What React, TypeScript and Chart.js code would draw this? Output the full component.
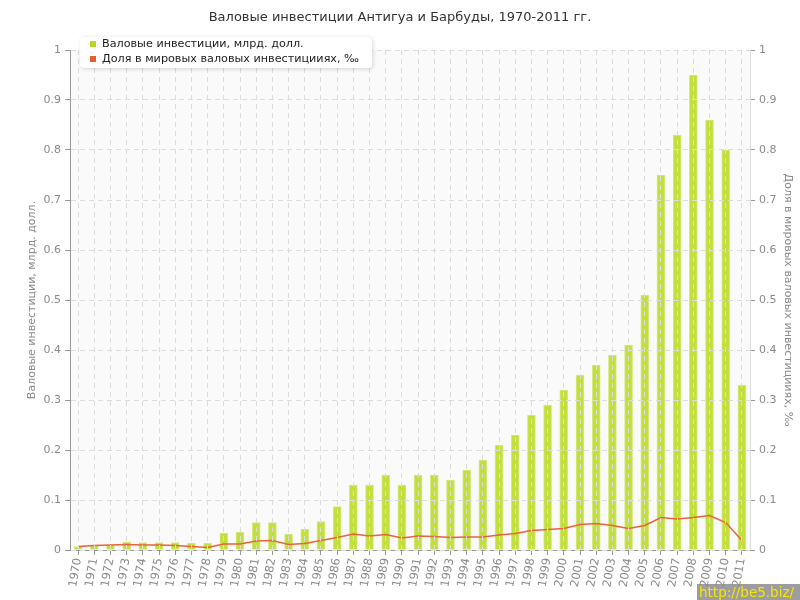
import React, { useEffect, useRef } from "react";
import { Chart, registerables } from "chart.js";

Chart.register(...registerables);

const years: string[] = [
  "1970","1971","1972","1973","1974","1975","1976","1977","1978","1979",
  "1980","1981","1982","1983","1984","1985","1986","1987","1988","1989",
  "1990","1991","1992","1993","1994","1995","1996","1997","1998","1999",
  "2000","2001","2002","2003","2004","2005","2006","2007","2008","2009",
  "2010","2011",
];

const investments: number[] = [
  0.007, 0.009, 0.01, 0.016, 0.015, 0.015, 0.015, 0.014, 0.014, 0.034,
  0.036, 0.055, 0.055, 0.032, 0.042, 0.057, 0.087, 0.13, 0.13, 0.15,
  0.13, 0.15, 0.15, 0.14, 0.16, 0.18, 0.21, 0.23, 0.27, 0.29,
  0.32, 0.35, 0.37, 0.39, 0.41, 0.51, 0.75, 0.83, 0.95, 0.86,
  0.8, 0.33,
];

const worldShare: number[] = [
  0.007, 0.009, 0.01, 0.011, 0.01, 0.01, 0.009, 0.007, 0.005, 0.012,
  0.012, 0.018, 0.019, 0.011, 0.013, 0.019, 0.025, 0.032, 0.028, 0.031,
  0.024, 0.028, 0.027, 0.025, 0.026, 0.026, 0.03, 0.033, 0.039, 0.041,
  0.043, 0.051, 0.053, 0.049, 0.043, 0.049, 0.065, 0.062, 0.065, 0.069,
  0.055, 0.019,
];

const titleText = "Валовые инвестиции Антигуа и Барбуды, 1970-2011 гг.";
const seriesNames: string[] = [
  "Валовые инвестиции, млрд. долл.",
  "Доля в мировых валовых инвестицииях, ‰",
];
const leftAxisTitle = "Валовые инвестиции, млрд. долл.";
const rightAxisTitle = "Доля в мировых валовых инвестицииях, ‰";
const watermark = "http://be5.biz/";

const FONT = "'DejaVu Sans', Verdana, sans-serif";

const decorPlugin = {
  id: "decor",
  beforeDraw(chart: any) {
    const { ctx, chartArea } = chart;
    ctx.save();
    ctx.fillStyle = "#ffffff";
    ctx.fillRect(0, 0, chart.width, chart.height);
    ctx.fillStyle = "#fafafa";
    ctx.fillRect(chartArea.left, chartArea.top, chartArea.right - chartArea.left, chartArea.bottom - chartArea.top);
    ctx.restore();
  },
  afterDraw(chart: any) {
    const { ctx } = chart;
    ctx.save();
    // title
    ctx.font = `13px ${FONT}`;
    ctx.fillStyle = "#333333";
    ctx.textAlign = "center";
    ctx.textBaseline = "middle";
    ctx.fillText(titleText, 400, 18);

    // legend box
    const bx = 80, by = 37, bw = 292, bh = 31, r = 4;
    ctx.shadowColor = "rgba(0,0,0,0.15)";
    ctx.shadowBlur = 4;
    ctx.shadowOffsetX = 1;
    ctx.shadowOffsetY = 1;
    ctx.fillStyle = "#ffffff";
    ctx.beginPath();
    ctx.moveTo(bx + r, by);
    ctx.lineTo(bx + bw - r, by);
    ctx.quadraticCurveTo(bx + bw, by, bx + bw, by + r);
    ctx.lineTo(bx + bw, by + bh - r);
    ctx.quadraticCurveTo(bx + bw, by + bh, bx + bw - r, by + bh);
    ctx.lineTo(bx + r, by + bh);
    ctx.quadraticCurveTo(bx, by + bh, bx, by + bh - r);
    ctx.lineTo(bx, by + r);
    ctx.quadraticCurveTo(bx, by, bx + r, by);
    ctx.closePath();
    ctx.fill();
    ctx.shadowColor = "transparent";
    ctx.shadowBlur = 0;
    ctx.shadowOffsetX = 0;
    ctx.shadowOffsetY = 0;

    const colors = ["#b5d62a", "#e8602c"];
    ctx.font = `11.2px ${FONT}`;
    ctx.textAlign = "left";
    ctx.textBaseline = "middle";
    seriesNames.forEach((name, i) => {
      const y = 44 + i * 15;
      ctx.fillStyle = colors[i];
      ctx.fillRect(90, y - 3, 6, 6);
      ctx.fillStyle = "#222222";
      ctx.fillText(name, 102, y);
    });

    // watermark
    ctx.fillStyle = "rgba(140,140,140,0.85)";
    ctx.fillRect(697, 584, 103, 16);
    ctx.font = `13.5px ${FONT}`;
    ctx.fillStyle = "#f5e600";
    ctx.textAlign = "left";
    ctx.textBaseline = "middle";
    ctx.fillText(watermark, 699, 593);
    ctx.restore();
  },
};

export default function App() {
  const ref = useRef<HTMLCanvasElement>(null);

  useEffect(() => {
    document.body.style.margin = "0";
    const canvas = ref.current!;
    const tickColor = "#8a8a8a";
    const chart = new Chart(canvas, {
      type: "bar",
      data: {
        labels: years,
        datasets: [
          {
            type: "line",
            label: seriesNames[1],
            data: worldShare,
            yAxisID: "y2",
            borderColor: "#e8643c",
            borderWidth: 1.5,
            pointRadius: 0,
            tension: 0,
            order: 0,
          } as any,
          {
            type: "bar",
            label: seriesNames[0],
            data: investments,
            yAxisID: "y",
            backgroundColor: "#c3df3c",
            borderColor: "#d6ea86",
            borderWidth: 1,
            barThickness: 8,
            order: 1,
          } as any,
        ],
      },
      options: {
        responsive: false,
        animation: false,
        maintainAspectRatio: false,
        layout: { padding: { top: 50, left: 0, right: 0, bottom: 0 } },
        plugins: {
          legend: { display: false },
          title: { display: false },
          tooltip: { enabled: false },
        },
        scales: {
          x: {
            offset: true,
            grid: {
              offset: false,
              color: "#dcdcdc",
              z: 1,
              drawTicks: true,
              tickLength: 5,
              tickColor: "#999999",
              tickBorderDash: [],
            },
            border: { color: "#999999", width: 1, dash: [5, 4], z: 1 },
            ticks: {
              color: tickColor,
              font: { family: FONT, size: 11.5 },
              minRotation: 80,
              maxRotation: 80,
              autoSkip: false,
              padding: 2,
            },
            afterFit(scale: any) {
              scale.height = 50;
            },
          },
          y: {
            position: "left",
            min: 0,
            max: 1,
            grid: {
              color: "#dcdcdc",
              z: 1,
              tickLength: 5,
              tickColor: "#999999",
              tickBorderDash: [],
            },
            border: { color: "#999999", width: 1, dash: [5, 4], z: 1 },
            ticks: {
              stepSize: 0.1,
              color: tickColor,
              font: { family: FONT, size: 11 },
              padding: 4,
              callback: (v: any) => String(Math.round(Number(v) * 10) / 10),
            },
            title: {
              display: true,
              text: leftAxisTitle,
              color: tickColor,
              font: { family: FONT, size: 11 },
              padding: { top: 26, bottom: 0 },
            },
            afterFit(scale: any) {
              scale.width = 70;
            },
          },
          y2: {
            position: "right",
            min: 0,
            max: 1,
            grid: {
              drawOnChartArea: false,
              tickLength: 5,
              tickColor: "#999999",
            },
            border: { color: "#dddddd", width: 1 },
            ticks: {
              stepSize: 0.1,
              color: tickColor,
              font: { family: FONT, size: 11 },
              padding: 4,
              callback: (v: any) => String(Math.round(Number(v) * 10) / 10),
            },
            title: {
              display: true,
              text: rightAxisTitle,
              color: tickColor,
              font: { family: FONT, size: 11 },
              padding: { top: 6, bottom: 0 },
            },
            afterFit(scale: any) {
              scale.width = 50;
            },
          },
        },
      } as any,
      plugins: [decorPlugin],
    });
    return () => chart.destroy();
  }, []);

  return (
    <div style={{ position: "absolute", left: 0, top: 0, width: 800, height: 600 }}>
      <canvas ref={ref} width={800} height={600} style={{ width: 800, height: 600 }} />
    </div>
  );
}
